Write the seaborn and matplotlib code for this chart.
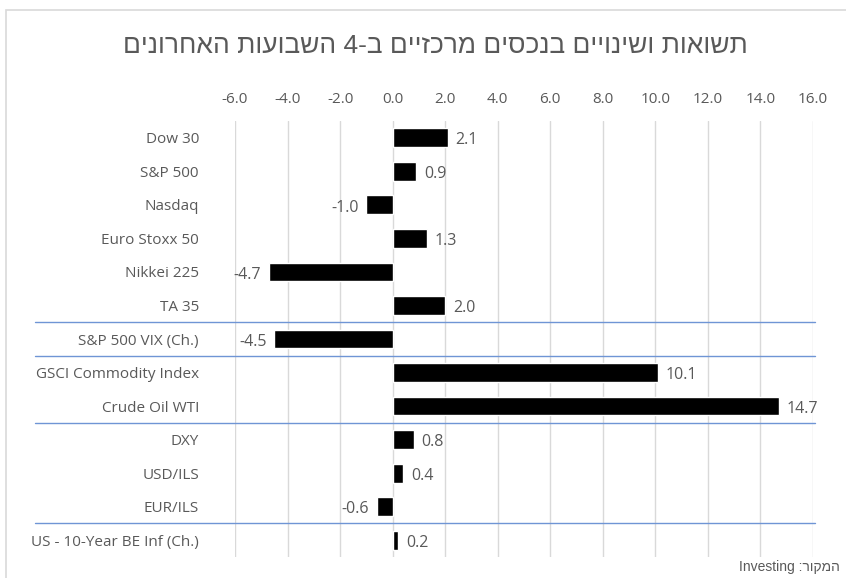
import matplotlib
matplotlib.use("Agg")
import matplotlib.pyplot as plt
import matplotlib.transforms as mtrans
from matplotlib.patches import Rectangle
import seaborn as sns
import pandas as pd

categories = ["Dow 30", "S&P 500", "Nasdaq", "Euro Stoxx 50", "Nikkei 225", "TA 35",
              "S&P 500 VIX (Ch.)", "GSCI Commodity Index", "Crude Oil WTI", "DXY",
              "USD/ILS", "EUR/ILS", "US - 10-Year BE Inf (Ch.)"]
values = [2.1, 0.9, -1.0, 1.3, -4.7, 2.0, -4.5, 10.1, 14.7, 0.8, 0.4, -0.6, 0.2]
xticks = [-6, -4, -2, 0, 2, 4, 6, 8, 10, 12, 14, 16]
separators = [5.5, 6.5, 8.5, 11.5]
title_logical = "תשואות ושינויים בנכסים מרכזיים ב-4 השבועות האחרונים"
source_logical = "המקור: Investing"


def visual(s):
    # simple RTL reorder: reverse characters, then restore LTR runs (latin/digits)
    r = s[::-1]
    out, run = [], ""
    for ch in r:
        if ch.isascii() and (ch.isalnum() or ch in "."):
            run += ch
        else:
            if run:
                out.append(run[::-1]); run = ""
            out.append(ch)
    if run:
        out.append(run[::-1])
    return "".join(out)


sns.set_theme(style="white")
plt.rcParams['font.family'] = ['Open Sans', 'DejaVu Sans']
gray = "#595959"

df = pd.DataFrame({"cat": categories, "val": values})
fig = plt.figure(figsize=(8.46, 5.78), dpi=100)
ax = fig.add_axes([235/846, 1-557/578, (813-235)/846, (557-121)/578])
sns.barplot(data=df, x="val", y="cat", orient="h", color="black", width=0.56,
            saturation=1, ax=ax, zorder=3)

ax.set_xlim(-6, 16)
ax.set_ylim(12.5, -0.5)
ax.set_xticks(xticks)
ax.set_xticklabels([f"{t:.1f}" for t in xticks])
ax.xaxis.tick_top()
ax.tick_params(axis='x', length=0, pad=10, labelsize=11, labelcolor=gray)
ax.tick_params(axis='y', length=0, pad=26, labelsize=11, labelcolor=gray)
ax.set_xlabel(""); ax.set_ylabel("")
for s in ax.spines.values():
    s.set_visible(False)
ax.grid(axis='x', color="#d9d9d9", linewidth=1, zorder=0)
ax.grid(axis='y', visible=False)

for i, v in enumerate(values):
    if v >= 0:
        ax.text(v + 0.3, i + 0.08, f"{v:.1f}", va='center', ha='left', fontsize=11.5, color=gray)
    else:
        ax.text(v - 0.3, i + 0.08, f"{v:.1f}", va='center', ha='right', fontsize=11.5, color=gray)

trans = mtrans.blended_transform_factory(fig.transFigure, ax.transData)
for y in separators:
    ax.plot([35/846, 815/846], [y, y], transform=trans, color="#6f95d5",
            linewidth=1, clip_on=False, zorder=4)

fig.patches.append(Rectangle((6/846, -0.1), 1.2, 1 - 10/578 + 0.1, transform=fig.transFigure,
                             fill=False, edgecolor="#d9d9d9", linewidth=1.2))

fig.text(435/846, 1-46/578, visual(title_logical), ha='center', va='center',
         fontsize=19, color=gray, family=['Liberation Sans', 'DejaVu Sans'])
fig.text(840/846, 1-567/578, visual(source_logical), ha='right', va='center',
         fontsize=10, color=gray, family=['Liberation Sans', 'DejaVu Sans'])

fig.savefig("out.png", dpi=100)
